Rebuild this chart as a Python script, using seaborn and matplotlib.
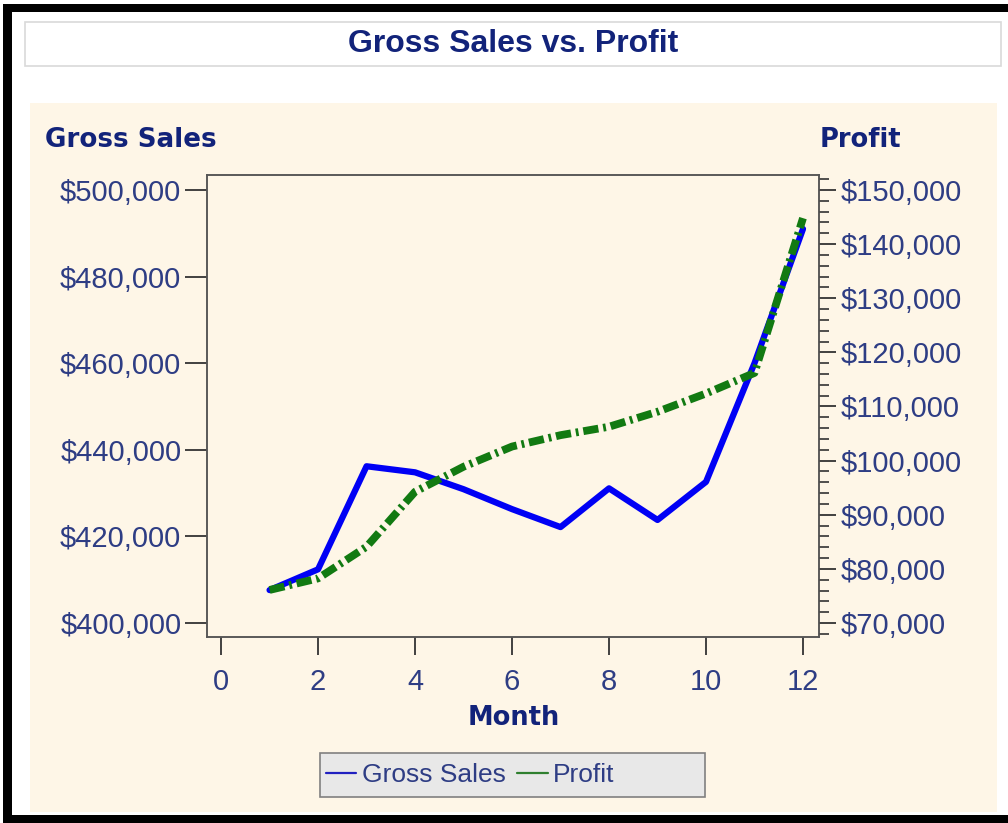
import matplotlib
matplotlib.use("Agg")
import matplotlib.pyplot as plt
from matplotlib.patches import Rectangle
from matplotlib.lines import Line2D
from matplotlib.ticker import FuncFormatter, MultipleLocator
import seaborn as sns
import pandas as pd

# Monthly figures
months = [1, 2, 3, 4, 5, 6, 7, 8, 9, 10, 11, 12]
gross_sales = [407600, 412400, 436200, 434800, 430900, 426300,
               422150, 431100, 423800, 432600, 460000, 491000]
profit = [76100, 78240, 84090, 94250, 98870, 102600,
          104700, 106260, 109030, 112400, 116200, 144800]

title_text = "Gross Sales vs. Profit"
left_label = "Gross Sales"
right_label = "Profit"
x_label = "Month"
x_ticks = [0, 2, 4, 6, 8, 10, 12]
left_ticks = [400000, 420000, 440000, 460000, 480000, 500000]
right_ticks = [70000, 80000, 90000, 100000, 110000, 120000, 130000, 140000, 150000]

df = pd.DataFrame({"Month": months, "Gross Sales": gross_sales, "Profit": profit})

sns.set_theme(style="ticks")
plt.rcParams["font.family"] = ["Liberation Sans", "DejaVu Sans"]
plt.rcParams["lines.scale_dashes"] = False

W, H = 1008, 823
CREAM = "#FEF6E7"
TICK_TXT = "#2E3D84"
LABEL_TXT = "#12237A"
BLUE = "#0000F5"
GREEN = "#127A12"

fig = plt.figure(figsize=(W / 100, H / 100), dpi=100, facecolor="white")


def px_rect(x0, y0, x1, y1, **kw):
    r = Rectangle((x0 / W, 1 - y1 / H), (x1 - x0) / W, (y1 - y0) / H,
                  transform=fig.transFigure, **kw)
    fig.add_artist(r)
    return r


# outer frame and panels
px_rect(3, 4, 1008, 12, facecolor="black", edgecolor="none", zorder=-5)
px_rect(3, 4, 12, 823, facecolor="black", edgecolor="none", zorder=-5)
px_rect(3, 815, 1008, 823, facecolor="black", edgecolor="none", zorder=-5)
px_rect(25, 22, 1001, 66, facecolor="white", edgecolor="#D9D9D9", lw=1.2, zorder=-4)
px_rect(30, 103, 997, 812, facecolor=CREAM, edgecolor="none", zorder=-4)

ax = fig.add_axes([207 / W, 1 - 637 / H, (819 - 207) / W, (637 - 175) / H])
ax.set_facecolor(CREAM)
ax2 = ax.twinx()

sns.lineplot(data=df, x="Month", y="Gross Sales", ax=ax, color=BLUE,
             linewidth=4.5, legend=False)
sns.lineplot(data=df, x="Month", y="Profit", ax=ax2, color=GREEN,
             linewidth=5.6, legend=False)
pl = ax2.lines[0]
pl.set_dashes([11, 3.5, 2, 3.5])
pl.set_dash_capstyle("butt")

ax.set_xlim(-0.29, 12.33)
ax.set_ylim(396770, 503460)
ax2.set_ylim(67410, 152770)

money = FuncFormatter(lambda v, p: "${:,.0f}".format(v))
ax.set_xticks(x_ticks)
ax.set_yticks(left_ticks)
ax2.set_yticks(right_ticks)
ax.yaxis.set_major_formatter(money)
ax2.yaxis.set_major_formatter(money)
ax2.yaxis.set_minor_locator(MultipleLocator(2000))

ax.set_xlabel("")
ax.set_ylabel("")
ax2.set_ylabel("")

ax.tick_params(axis="y", direction="out", length=15.5, width=1.3, color="#333333",
               pad=3, labelsize=21, labelcolor=TICK_TXT)
ax.tick_params(axis="x", direction="out", length=13, width=1.3, color="#333333",
               pad=9, labelsize=21, labelcolor=TICK_TXT)
ax2.tick_params(axis="y", which="major", direction="out", length=12.5, width=1.3,
                color="#333333", pad=3, labelsize=21, labelcolor=TICK_TXT)
ax2.tick_params(axis="y", which="minor", direction="out", length=7, width=1.2,
                color="#333333")

for a in (ax, ax2):
    for s in a.spines.values():
        s.set_visible(True)
        s.set_color("#555555")
        s.set_linewidth(1.1)

# titles and axis captions
fig.text(513 / W, 1 - 44 / H, title_text, ha="center", va="center",
         fontsize=23, fontweight="bold", color=LABEL_TXT)
fig.text(45 / W, 1 - 140 / H, left_label, ha="left", va="center",
         fontsize=18.8, fontweight="bold", color=LABEL_TXT, family="DejaVu Sans")
fig.text(820 / W, 1 - 140 / H, right_label, ha="left", va="center",
         fontsize=18.5, fontweight="bold", color=LABEL_TXT, family="DejaVu Sans")
fig.text(514 / W, 1 - 718 / H, x_label, ha="center", va="center",
         fontsize=18.5, fontweight="bold", color=LABEL_TXT, family="DejaVu Sans")

# legend
px_rect(320, 753, 705, 797, facecolor="#E8E8E8", edgecolor="#808080", lw=1.2, zorder=1)
handles = [Line2D([], [], color="#2020C0", lw=1.6),
           Line2D([], [], color="#2F7F2F", lw=1.6)]
leg = fig.legend(handles, [left_label, right_label], loc="center left",
                 bbox_to_anchor=(326 / W, 1 - 775 / H), frameon=False, ncol=2,
                 fontsize=19, handlelength=1.15, handletextpad=0.2,
                 columnspacing=0.45, borderpad=0, borderaxespad=0)
for t in leg.get_texts():
    t.set_color(TICK_TXT)
leg.set_zorder(5)

fig.savefig("out.png", dpi=100, facecolor="white")
